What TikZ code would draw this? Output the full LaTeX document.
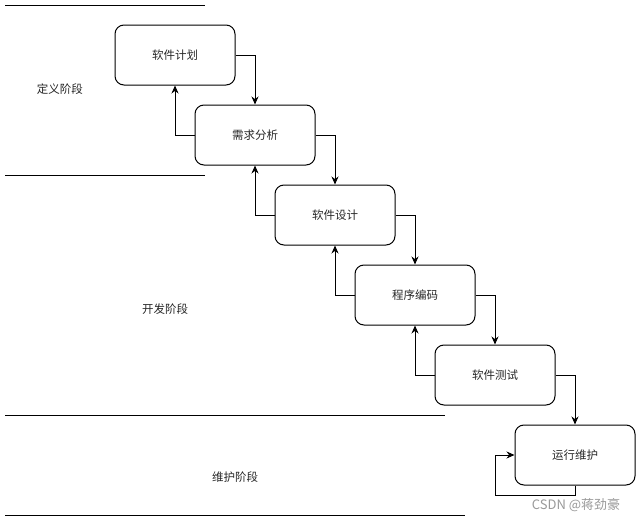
\documentclass[tikz,border=0pt]{standalone}
\usepackage{fontspec}
\setmainfont{Noto Sans CJK SC}
\usetikzlibrary{arrows.meta}
\begin{document}
\begin{tikzpicture}[x=1pt,y=-1pt,
  stage/.style={draw,line width=1pt,rounded corners=9pt,minimum width=120pt,minimum height=60pt,inner sep=0pt,font=\fontsize{11.5}{13}\selectfont,text=black!85},
  conn/.style={line width=1pt,-{Stealth[length=8pt,width=7pt]}},
  sep/.style={line width=1pt},
  phase/.style={font=\fontsize{11.5}{13}\selectfont,text=black!85}]
\useasboundingbox (0,0) rectangle (641,522);
\node[stage] (b1) at (175,55) {软件计划};
\node[stage] (b2) at (255,135) {需求分析};
\node[stage] (b3) at (335,215) {软件设计};
\node[stage] (b4) at (415,295) {程序编码};
\node[stage] (b5) at (495,375) {软件测试};
\node[stage] (b6) at (575,455) {运行维护};
% forward arrows
\draw[conn] (b1.east) -| (b2.north);
\draw[conn] (b2.east) -| (b3.north);
\draw[conn] (b3.east) -| (b4.north);
\draw[conn] (b4.east) -| (b5.north);
\draw[conn] (b5.east) -| (b6.north);
% backward arrows
\draw[conn] (b2.west) -| (b1.south);
\draw[conn] (b3.west) -| (b2.south);
\draw[conn] (b4.west) -| (b3.south);
\draw[conn] (b5.west) -| (b4.south);
% self loop
\coordinate (l1) at (575,495);
\coordinate (l2) at (495,495);
\coordinate (l3) at (495,455);
\draw[conn] (b6.south) -- (l1) -- (l2) -- (l3) -- (b6.west);
% phase separators
\coordinate (s1a) at (5,5); \coordinate (s1b) at (205,5);
\coordinate (s2a) at (5,175); \coordinate (s2b) at (205,175);
\coordinate (s3a) at (5,415); \coordinate (s3b) at (445,415);
\coordinate (s4a) at (5,515); \coordinate (s4b) at (465,515);
\draw[sep] (s1a) -- (s1b);
\draw[sep] (s2a) -- (s2b);
\draw[sep] (s3a) -- (s3b);
\draw[sep] (s4a) -- (s4b);
% phase labels
\node[phase] (p1) at (60,89) {定义阶段};
\node[phase] (p2) at (165,309) {开发阶段};
\node[phase] (p3) at (235,477) {维护阶段};
\node[font=\fontsize{13}{15}\selectfont,text=black!40] (wm) at (576,505) {CSDN @蒋劲豪};
\end{tikzpicture}
\end{document}
